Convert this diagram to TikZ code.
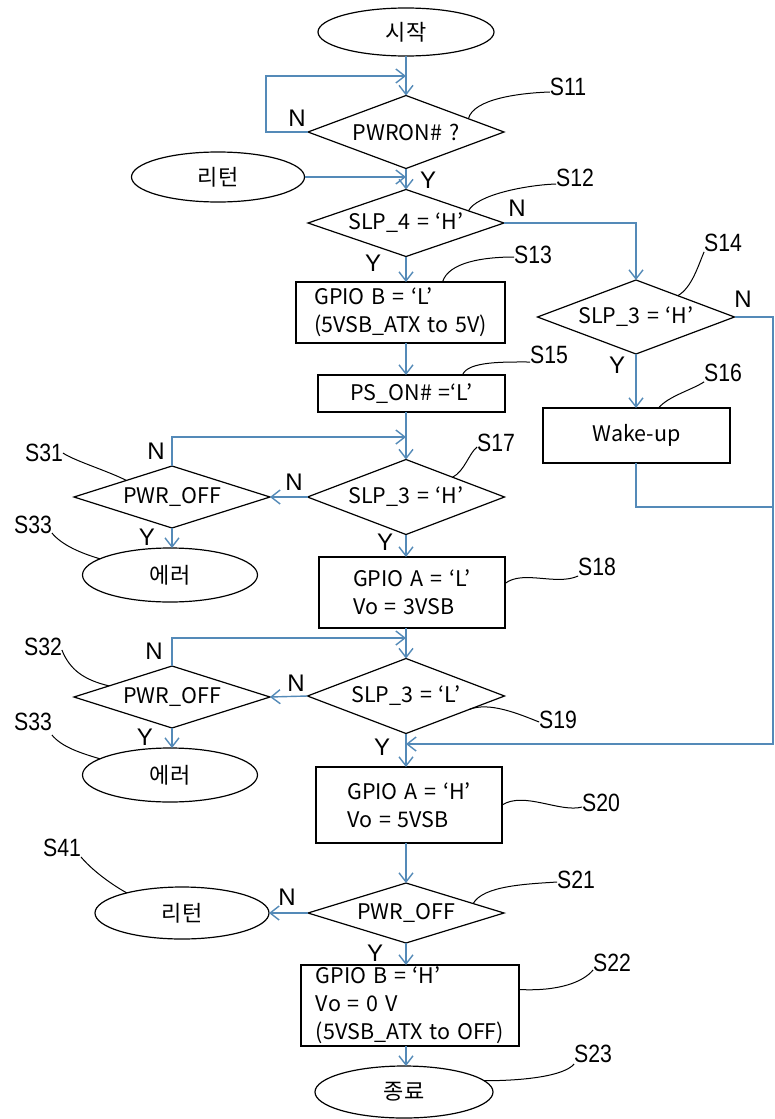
\documentclass[tikz,border=0pt]{standalone}
\usepackage{fontspec}
\setmainfont[WordSpace=1.4]{Noto Sans CJK KR}
\newfontfamily\lblfont[FakeStretch=0.85]{Liberation Sans}
\newfontfamily\ynfont{Liberation Sans}
\usetikzlibrary{shapes.geometric,arrows.meta}
\definecolor{flow}{RGB}{84,138,184}
\newcommand\zw[1]{\makebox[0pt]{#1}}
\begin{document}
\begin{tikzpicture}[x=1pt,y=-1pt,
  every node/.style={inner sep=0pt, outer sep=0pt},
  term/.style={ellipse, draw=black, line width=1.2pt, font=\fontsize{22}{26}\selectfont},
  dia/.style={diamond, draw=black, line width=1.2pt, font=\fontsize{21.5}{24}\selectfont, minimum width=196pt},
  proc/.style={rectangle, draw=black, line width=1.2pt, font=\fontsize{21.5}{28}\selectfont, align=left},
  lbl/.style={font=\lblfont\fontsize{25}{25}\selectfont},
  yn/.style={font=\ynfont\fontsize{24}{24}\selectfont},
  flowline/.style={draw=flow, line width=1.4pt},
  arr/.style={flowline, -{Straight Barb[length=9pt,width=14pt]}},
  lead/.style={draw=black, line width=1pt},
]
\useasboundingbox[fill=white] (0,0) rectangle (775,1119);

% ---- shapes ----
\node[term, minimum width=176pt, minimum height=48pt] (start) at (406,32) {시작};
\node[dia, minimum height=73pt] (s11) at (406,132) {\zw{PWRON\# ?}};
\node[term, minimum width=173pt, minimum height=50pt] (ret1) at (218,177) {리턴};
\node[dia, minimum height=67pt] (s12) at (406,223) {\zw{SLP\_4 = ‘H’}};
\node[proc, minimum width=209pt, minimum height=61pt] (s13) at (400.5,312.5) {GPIO B = ‘L’\\(5VSB\_ATX to 5V)};
\node[dia, minimum width=197pt, minimum height=74pt] (s14) at (636,317) {\zw{SLP\_3 = ‘H’}};
\node[proc, minimum width=187pt, minimum height=37pt, align=center] (s15) at (411.5,393.5) {PS\_ON\# =‘L’};
\node[proc, minimum width=187pt, minimum height=55pt, align=center] (s16) at (636.5,435.5) {Wake-up};
\node[dia, minimum width=197pt, minimum height=75pt] (s17) at (406,497) {\zw{SLP\_3 = ‘H’}};
\node[dia, minimum height=62pt] (s31) at (172,497) {\zw{PWR\_OFF}};
\node[term, minimum width=175pt, minimum height=54pt] (err1) at (170,575) {에러};
\node[proc, minimum width=186pt, minimum height=71pt] (s18) at (412,592.5) {GPIO A = ‘L’\\Vo = 3VSB};
\node[dia, minimum height=62pt] (s32) at (172,697) {\zw{PWR\_OFF}};
\node[dia, minimum width=197pt, minimum height=75pt] (s19) at (406,696) {\zw{SLP\_3 = ‘L’}};
\node[term, minimum width=175pt, minimum height=54pt] (err2) at (170,775) {에러};
\node[proc, minimum width=186pt, minimum height=76pt] (s20) at (409,805) {GPIO A = ‘H’\\Vo = 5VSB};
\node[dia, minimum height=60pt] (s21) at (406,913) {\zw{PWR\_OFF}};
\node[term, minimum width=174pt, minimum height=52pt] (ret2) at (182,913) {리턴};
\node[proc, minimum width=218pt, minimum height=81pt] (s22) at (410,1005.5) {GPIO B = ‘H’\\Vo = 0 V\\(5VSB\_ATX to OFF)};
\node[term, minimum width=178pt, minimum height=52pt] (end) at (404,1092) {종료};

% ---- step labels ----
\node[lbl] (l11) at (568,87) {S11};
\node[lbl] (l12) at (575,178) {S12};
\node[lbl] (l13) at (533,255) {S13};
\node[lbl] (l14) at (723,243) {S14};
\node[lbl] (l15) at (549,355) {S15};
\node[lbl] (l16) at (723,373) {S16};
\node[lbl] (l17) at (496,443) {S17};
\node[lbl] (l31) at (44,453) {S31};
\node[lbl] (l33a) at (33,525) {S33};
\node[lbl] (l18) at (597,567) {S18};
\node[lbl] (l32) at (43,647) {S32};
\node[lbl] (l19) at (558,720) {S19};
\node[lbl] (l33b) at (33,722) {S33};
\node[lbl] (l20) at (601,803) {S20};
\node[lbl] (l41) at (62,848) {S41};
\node[lbl] (l21) at (576,880) {S21};
\node[lbl] (l22) at (612,963) {S22};
\node[lbl] (l23) at (593,1054) {S23};

% ---- Y / N ----
\node[yn] (n11) at (297,118) {N};
\node[yn] (y11) at (428,180) {Y};
\node[yn] (n12) at (517,208) {N};
\node[yn] (y12) at (373,263) {Y};
\node[yn] (n14) at (743,299) {N};
\node[yn] (y14) at (617,365) {Y};
\node[yn] (n17) at (294,482) {N};
\node[yn] (n31) at (156,451) {N};
\node[yn] (y31) at (147,537) {Y};
\node[yn] (y17) at (385,542) {Y};
\node[yn] (n32) at (154,651) {N};
\node[yn] (n19) at (296,683) {N};
\node[yn] (y32) at (145,737) {Y};
\node[yn] (y19) at (382,747) {Y};
\node[yn] (n21) at (287,897) {N};
\node[yn] (y21) at (375,953) {Y};

% ---- connectors ----
\coordinate (l1) at (266,76);
\coordinate (rr) at (773,744);
\coordinate (wk) at (773,507);
\coordinate (f1) at (406,437);
\coordinate (f2) at (406,638);

\draw[arr] (start) -- (s11);
\draw[arr] (s11.west) -| (l1) -- (l1 -| start);
\draw[arr] (ret1.east) -- (ret1.east -| s11);
\draw[arr] (s11) -- (s12);
\draw[arr] (s12.east) -| (s14.north);
\draw[arr] (s12.south) -- (s12.south |- s13.north);
\draw[arr] (s13.south -| s12) -- (s12 |- s15.north);
\draw[arr] (s15.south -| s17) -- (s17.north);
\draw[arr] (s14.east) -| (rr) -- (rr -| s19);
\draw[arr] (s14.south) -- (s14.south |- s16.north);
\draw[flowline] (s16.south -| s14) |- (wk);
\draw[arr] (s17.west) -- (s31.east);
\draw[arr] (s31.north) |- (f1);
\draw[arr] (s31.south) -- (s31.south |- err1.north);
\draw[arr] (s17.south) -- (s17.south |- s18.north);
\draw[arr] (s18.south -| s19) -- (s19.north);
\draw[arr] (s19.west) -- (s32.east);
\draw[arr] (s32.north) |- (f2);
\draw[arr] (s32.south) -- (s32.south |- err2.north);
\draw[arr] (s19.south) -- (s19.south |- s20.north);
\draw[arr] (s20.south -| s21) -- (s21.north);
\draw[arr] (s21.west) -- (ret2.east);
\draw[arr] (s21.south) -- (s21.south |- s22.north);
\draw[arr] (s22.south -| s21) -- (s21 |- end.north);

% ---- leaders ----
\draw[lead] (s11.12) .. controls +(5,-20) and +(-30,1) .. ([yshift=-5pt]l11.west);
\draw[lead] (s12.11) .. controls +(8,-16) and +(-30,1) .. ([yshift=-6pt]l12.west);
\draw[lead] ([xshift=42pt]s13.north) .. controls +(6,-20) and +(-30,0) .. ([yshift=-2pt]l13.west);
\draw[lead] (s14.27) .. controls +(14,-8) and +(-6,14) .. (l14.south west);
\draw[lead] ([xshift=51pt]s15.north) .. controls +(5,-14) and +(-25,0) .. ([yshift=-7pt]l15.west);
\draw[lead] ([xshift=22pt]s16.north) .. controls +(10,-12) and +(-12,8) .. (l16.south west);
\draw[lead] (s17.23) .. controls +(12,-6) and +(-8,6) .. ([yshift=-4pt]l17.west);
\draw[lead] (l31.east) .. controls +(12,8) and +(-20,-10) .. (s31.160);
\draw[lead] ([yshift=-8pt]l33a.east) .. controls +(10,12) and +(-20,-6) .. (err1.167);
\draw[lead] ([yshift=9pt]s18.east) .. controls +(18,-14) and +(-22,10) .. ([yshift=-9pt]l18.west);
\draw[lead] ([yshift=-3pt]l32.east) .. controls +(8,20) and +(-25,-6) .. (s32.170);
\draw[lead] ([yshift=-13pt]l33b.east) .. controls +(10,12) and +(-20,-6) .. (err2.167);
\draw[lead] (s19.348) .. controls +(20,-8) and +(-20,-8) .. ([yshift=-2pt]l19.west);
\draw[lead] (s20.east) .. controls +(22,-14) and +(-22,6) .. ([yshift=-4pt]l20.west);
\draw[lead] (l41.south east) .. controls +(10,12) and +(-18,-10) .. (ret2.160);
\draw[lead] (s21.8) .. controls +(10,-18) and +(-30,2) .. ([yshift=-2pt]l21.west);
\draw[lead] ([yshift=16pt]s22.east) .. controls +(40,2) and +(-10,12) .. ([yshift=-7pt]l22.west);
\draw[lead] (end.8) .. controls +(40,0) and +(-10,12) .. ([yshift=-10pt]l23.west);
\end{tikzpicture}
\end{document}
